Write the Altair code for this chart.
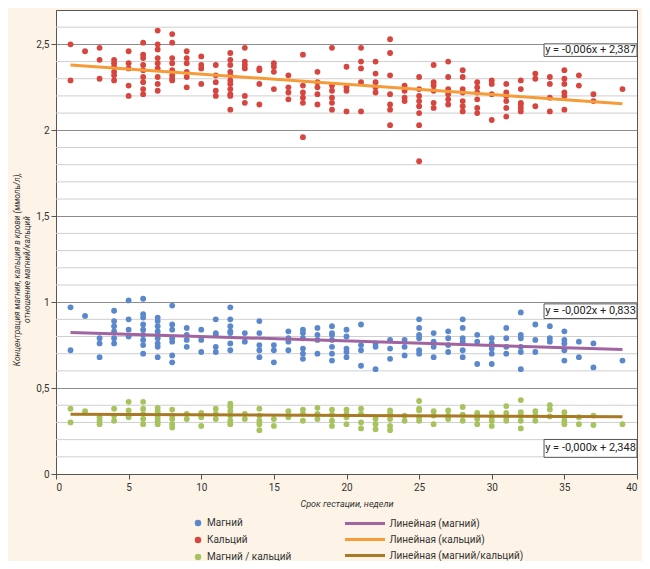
import altair as alt
import pandas as pd

# ---------------- data ----------------
WEEKS = [1, 2, 3, 4, 5, 6, 7, 8, 9, 10, 11, 12, 13, 14, 15, 16, 17, 18, 19, 20,
         21, 22, 23, 24, 25, 26, 27, 28, 29, 30, 31, 32, 33, 34, 35, 36, 37, 39]

CALCIUM = [
    [2.50, 2.29], [2.46], [2.48, 2.41, 2.30],
    [2.41, 2.39, 2.37, 2.34, 2.32, 2.29],
    [2.46, 2.39, 2.36, 2.26, 2.20],
    [2.51, 2.44, 2.42, 2.38, 2.35, 2.31, 2.28, 2.24, 2.21],
    [2.58, 2.50, 2.47, 2.42, 2.39, 2.36, 2.31, 2.27, 2.23],
    [2.56, 2.51, 2.42, 2.39, 2.35, 2.32, 2.30, 2.29],
    [2.46, 2.42, 2.39, 2.34, 2.31, 2.25],
    [2.43, 2.38, 2.36, 2.27],
    [2.38, 2.32, 2.28, 2.23, 2.20],
    [2.45, 2.41, 2.38, 2.34, 2.32, 2.29, 2.27, 2.24, 2.21, 2.20, 2.12],
    [2.48, 2.40, 2.38, 2.36, 2.20, 2.16],
    [2.36, 2.35, 2.27, 2.15],
    [2.39, 2.37, 2.34, 2.24],
    [2.32, 2.25, 2.22, 2.18],
    [2.44, 2.26, 2.22, 2.19, 2.16, 1.96],
    [2.34, 2.28, 2.25, 2.21, 2.15],
    [2.48, 2.26, 2.23, 2.19, 2.16, 2.12],
    [2.37, 2.25, 2.23, 2.11],
    [2.48, 2.40, 2.36, 2.28, 2.11],
    [2.40, 2.33, 2.28, 2.25, 2.22],
    [2.53, 2.45, 2.32, 2.21, 2.15, 2.12, 2.03],
    [2.26, 2.23, 2.19, 2.17],
    [2.31, 2.24, 2.20, 2.17, 2.14, 2.10, 2.03, 1.82],
    [2.38, 2.28, 2.26, 2.23, 2.16, 2.13],
    [2.40, 2.31, 2.24, 2.21, 2.18, 2.15],
    [2.35, 2.31, 2.24, 2.22, 2.17, 2.14, 2.11],
    [2.28, 2.25, 2.22, 2.18, 2.13, 2.10],
    [2.29, 2.27, 2.21, 2.06],
    [2.27, 2.22, 2.20, 2.17, 2.13, 2.08],
    [2.29, 2.24, 2.16, 2.15, 2.13, 2.11],
    [2.33, 2.30, 2.14],
    [2.31, 2.27, 2.19, 2.11],
    [2.35, 2.30, 2.27, 2.22, 2.20, 2.12],
    [2.32, 2.26], [2.21, 2.17], [2.24],
]

MAGNESIUM = [
    [0.97, 0.72], [0.92], [0.79, 0.76, 0.68],
    [0.95, 0.89, 0.86, 0.83, 0.79, 0.76],
    [1.01, 0.90, 0.84, 0.80],
    [1.02, 0.93, 0.91, 0.87, 0.84, 0.81, 0.78, 0.75, 0.70],
    [0.91, 0.89, 0.86, 0.83, 0.81, 0.79, 0.76, 0.74, 0.68],
    [0.98, 0.87, 0.84, 0.79, 0.77, 0.69, 0.65],
    [0.85, 0.81, 0.78, 0.74],
    [0.84, 0.78, 0.71],
    [0.90, 0.82, 0.81, 0.74, 0.71],
    [0.97, 0.90, 0.86, 0.83, 0.82, 0.76, 0.72],
    [0.82, 0.77],
    [0.89, 0.82, 0.75, 0.72, 0.68],
    [0.75, 0.72, 0.65],
    [0.83, 0.79, 0.77, 0.72],
    [0.84, 0.82, 0.79, 0.73, 0.70, 0.67],
    [0.85, 0.81, 0.78, 0.70],
    [0.86, 0.82, 0.81, 0.78, 0.74, 0.70, 0.66],
    [0.84, 0.80, 0.73, 0.71, 0.68],
    [0.87, 0.75, 0.72, 0.63],
    [0.76, 0.74, 0.61],
    [0.78, 0.73, 0.67],
    [0.78, 0.74, 0.69],
    [0.90, 0.85, 0.81, 0.79, 0.72, 0.70],
    [0.82, 0.77, 0.74, 0.68],
    [0.83, 0.79, 0.75, 0.71],
    [0.90, 0.85, 0.79, 0.77, 0.72, 0.68],
    [0.81, 0.77, 0.64],
    [0.79, 0.76, 0.73, 0.70, 0.64],
    [0.85, 0.79, 0.74, 0.70],
    [0.94, 0.81, 0.79, 0.74, 0.71, 0.61],
    [0.87, 0.78, 0.71],
    [0.86, 0.79, 0.77],
    [0.83, 0.78, 0.76, 0.72, 0.66],
    [0.77, 0.68], [0.76, 0.62], [0.66],
]

RATIO = [
    [0.38, 0.30], [0.365], [0.33, 0.31, 0.29],
    [0.38, 0.34, 0.31],
    [0.42, 0.37, 0.33],
    [0.42, 0.38, 0.35, 0.32, 0.29],
    [0.385, 0.365, 0.345, 0.325, 0.305, 0.29],
    [0.375, 0.34, 0.32, 0.29, 0.27],
    [0.35, 0.32],
    [0.355, 0.33, 0.28],
    [0.38, 0.35, 0.32],
    [0.41, 0.39, 0.365, 0.34, 0.31, 0.29],
    [0.35, 0.32],
    [0.38, 0.34, 0.31, 0.29, 0.255],
    [0.32, 0.28],
    [0.365, 0.33],
    [0.375, 0.35, 0.31],
    [0.385, 0.35, 0.32],
    [0.375, 0.345, 0.31, 0.28],
    [0.375, 0.35, 0.33, 0.29],
    [0.38, 0.35, 0.30, 0.265],
    [0.32, 0.29, 0.26],
    [0.37, 0.35, 0.32, 0.28, 0.255],
    [0.34, 0.31],
    [0.425, 0.38, 0.37, 0.33, 0.31],
    [0.365, 0.34, 0.29],
    [0.37, 0.34, 0.32],
    [0.39, 0.345, 0.31],
    [0.355, 0.335, 0.32, 0.29],
    [0.355, 0.33, 0.31, 0.28],
    [0.395, 0.355, 0.33, 0.31],
    [0.43, 0.36, 0.34, 0.31, 0.265],
    [0.365, 0.34, 0.31],
    [0.40, 0.375, 0.335],
    [0.36, 0.335, 0.31, 0.29],
    [0.33, 0.29], [0.34, 0.285], [0.29],
]

SERIES = ["Магний", "Кальций", "Магний / кальций"]
TREND_NAMES = ["Линейная (магний)", "Линейная (кальций)", "Линейная (магний/кальций)"]
TREND_WEEKS = [1, 39]
TREND_MAGNESIUM = [0.824, 0.724]
TREND_CALCIUM = [2.380, 2.155]
TREND_RATIO = [0.348, 0.333]

EQUATIONS = ["y = -0,006x + 2,387", "y = -0,002x + 0,833", "y = -0,000x + 2,348"]
EQ_Y_TOP = [2.503, 0.990, 0.201]
EQ_Y_BOTTOM = [2.430, 0.905, 0.097]
EQ_X_LEFT = 33.6
EQ_X_RIGHT = 40

MINOR_GRID = [round(v * 0.1, 1) for v in range(1, 27) if v % 5 != 0]

# ---------------- build tables ----------------
rows = []
for name, groups in zip(SERIES, [MAGNESIUM, CALCIUM, RATIO]):
    for w, vals in zip(WEEKS, groups):
        for v in vals:
            rows.append({"series": name, "week": w, "value": v})
points_df = pd.DataFrame(rows)

trend_rows = []
for name, vals in zip(TREND_NAMES, [TREND_MAGNESIUM, TREND_CALCIUM, TREND_RATIO]):
    for w, v in zip(TREND_WEEKS, vals):
        trend_rows.append({"trend": name, "week": w, "value": v})
trend_df = pd.DataFrame(trend_rows)

eq_df = pd.DataFrame({
    "label": EQUATIONS,
    "y0": EQ_Y_BOTTOM,
    "y1": EQ_Y_TOP,
    "x0": [EQ_X_LEFT] * 3,
    "x1": [EQ_X_RIGHT] * 3,
})
eq_df["ym"] = (eq_df["y0"] + eq_df["y1"]) / 2
eq_df["xm"] = (eq_df["x0"] + eq_df["x1"]) / 2

grid_df = pd.DataFrame({"g": MINOR_GRID})

FONT = "Roboto"
TXT = "#333333"

x_scale = alt.Scale(domain=[0, 40], nice=False, zero=False)
y_scale = alt.Scale(domain=[0, 2.7], nice=False)

x_axis = alt.Axis(
    values=[0, 5, 10, 15, 20, 25, 30, 35, 40], grid=False, ticks=True, tickSize=5,
    tickColor="#555555", domainColor="#555555", labelFontSize=10, labelColor=TXT,
    labelFont=FONT, labelPadding=3, title="Срок гестации, недели", titleFont=FONT,
    titleFontSize=9, titleFontStyle="italic", titleFontWeight="normal",
    titleColor=TXT, titlePadding=7,
)
y_axis = alt.Axis(
    values=[0, 0.5, 1, 1.5, 2, 2.5], format=".1~f",
    labelExpr="replace(datum.label, '.', ',')",
    grid=True, gridColor="#8c8c8c", gridWidth=1, ticks=True, tickSize=5,
    tickColor="#555555", domainColor="#555555", labelFontSize=10, labelColor=TXT,
    labelFont=FONT, labelPadding=2,
    title=["Концентрация магния, кальция в крови (ммоль/л),", "отношение магний/кальций"],
    titleFont=FONT, titleFontSize=8.3, titleFontStyle="italic", titleFontWeight="normal",
    titleColor=TXT, titlePadding=4, titleLineHeight=10, titleY=259,
)

grid = alt.Chart(grid_df).mark_rule(color="#cfcfcf", strokeWidth=1).encode(
    y=alt.Y("g:Q", scale=y_scale, axis=y_axis),
)

pts = alt.Chart(points_df).mark_circle(size=34, opacity=1).encode(
    x=alt.X("week:Q", scale=x_scale, axis=x_axis),
    y=alt.Y("value:Q", scale=y_scale, axis=y_axis),
    color=alt.Color(
        "series:N",
        scale=alt.Scale(domain=SERIES, range=["#5b88cc", "#d6463f", "#a6c35e"]),
        legend=alt.Legend(
            title=None, orient="none", legendX=137, legendY=508, direction="vertical",
            symbolType="circle", symbolSize=42, symbolStrokeWidth=0, padding=0,
            labelFont=FONT, labelFontSize=10, labelColor=TXT, labelOffset=4,
            rowPadding=7,
        ),
    ),
)

lines = alt.Chart(trend_df).mark_line(strokeWidth=3).encode(
    x=alt.X("week:Q", scale=x_scale, axis=x_axis),
    y=alt.Y("value:Q", scale=y_scale, axis=y_axis),
    stroke=alt.Stroke(
        "trend:N",
        scale=alt.Scale(domain=TREND_NAMES, range=["#a064a0", "#f59b38", "#a97a25"]),
        legend=alt.Legend(
            title=None, orient="none", legendX=303.5, legendY=508, direction="vertical",
            symbolType="M-5,0H5", symbolSize=64, symbolStrokeWidth=3, padding=0,
            labelFont=FONT, labelFontSize=10, labelColor=TXT, labelOffset=19,
            rowPadding=3,
        ),
    ),
)

boxes = alt.Chart(eq_df).mark_rect(fill="white", stroke="#555555", strokeWidth=1).encode(
    x=alt.X("x0:Q", scale=x_scale, axis=x_axis), x2="x1:Q",
    y=alt.Y("y0:Q", scale=y_scale, axis=y_axis), y2="y1:Q",
)

eq_text = alt.Chart(eq_df).mark_text(
    font=FONT, fontSize=11, color="#222222", align="center", baseline="middle"
).encode(
    x=alt.X("xm:Q", scale=x_scale, axis=x_axis),
    y=alt.Y("ym:Q", scale=y_scale, axis=y_axis),
    text="label:N",
)

chart = alt.layer(grid, pts, lines, boxes, eq_text).resolve_legend(
    color="independent", stroke="independent"
).properties(
    width=581, height=464,
    autosize=alt.AutoSizeParams(type="none"),
    padding={"left": 48, "top": 2, "right": 5, "bottom": 87},
    background="#fdf3e7",
).configure_view(
    stroke="#555555", strokeWidth=1, fill="white",
)

chart.save("out.html", embed_options={"renderer": "svg", "actions": False})
